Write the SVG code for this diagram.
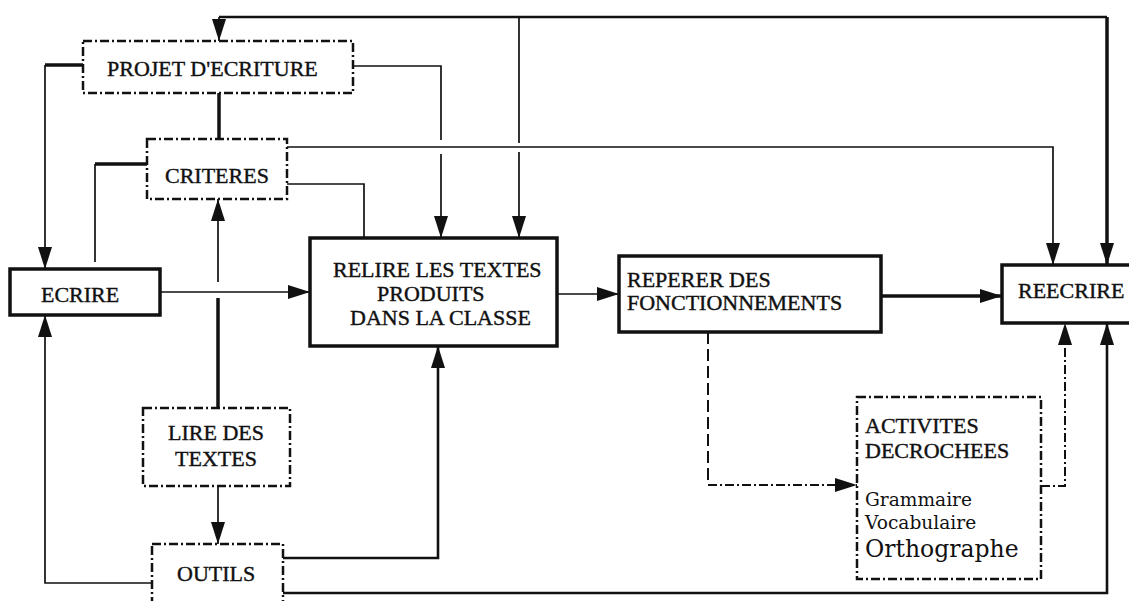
<svg xmlns="http://www.w3.org/2000/svg" width="1129" height="601" viewBox="0 0 1129 601">
<style>
.cap{font-family:"Liberation Serif","Times New Roman",serif;font-size:22px;fill:#111;stroke:#111;stroke-width:0.4}
.low{font-family:"DejaVu Serif",serif;font-size:18.6px;fill:#111}
.big{font-family:"DejaVu Serif",serif;font-size:23.5px;fill:#111}
.solid{fill:#fff;stroke:#111;stroke-width:3.5}
.dd{fill:#fff;stroke:#111;stroke-width:2.5;stroke-dasharray:9 3 2 3}
.thin{fill:none;stroke:#111;stroke-width:1.7}
.thick{fill:none;stroke:#111;stroke-width:3.5}
.med{fill:none;stroke:#111;stroke-width:2.6}
.dash{fill:none;stroke:#111;stroke-width:2;stroke-dasharray:12 5}
.ddl{fill:none;stroke:#111;stroke-width:2;stroke-dasharray:9 3 2 3}
</style>
<defs>
<marker id="ah" markerUnits="userSpaceOnUse" markerWidth="22" markerHeight="14" viewBox="0 0 22 14" refX="22" refY="7" orient="auto">
<path d="M0,0 L22,7 L0,14 z" fill="#111"/>
</marker>
</defs>
<rect width="1129" height="601" fill="#fff"/>
<g id="connectors">
<path class="med" d="M219,17 H1107"/>
<path class="thin" d="M219,17 V41" marker-end="url(#ah)"/>
<path class="thin" d="M519,17 V143 M519,152 V238" marker-end="url(#ah)"/>
<path class="thick" d="M1107,17 V265" marker-end="url(#ah)"/>
<path class="thick" d="M83,65 H45"/>
<path class="thin" d="M45,65 V269" marker-end="url(#ah)"/>
<path class="thin" d="M353,66 H441 V140 M441,154 V238" marker-end="url(#ah)"/>
<path class="thick" d="M219,93 V139"/>
<path class="thin" d="M287,147 H1053 V265" marker-end="url(#ah)"/>
<path class="thin" d="M287,184 H364 V238"/>
<path class="thick" d="M147,164 H95"/>
<path class="thin" d="M95,164 V262"/>
<path class="thin" d="M160,292 H310" marker-end="url(#ah)"/>
<path class="thick" d="M218,408 V298"/>
<path class="thin" d="M218,282 V199" marker-end="url(#ah)"/>
<path class="thin" d="M557,294 H619" marker-end="url(#ah)"/>
<path class="thick" d="M881,296 H1002" marker-end="url(#ah)"/>
<path class="dash" d="M708,332 V485"/>
<path class="ddl" d="M708,485 H857" marker-end="url(#ah)"/>
<path class="ddl" d="M1041,486 H1065 V323" marker-end="url(#ah)"/>
<path class="thin" d="M218,486 V544" marker-end="url(#ah)"/>
<path class="thin" d="M152,583 H45 V315" marker-end="url(#ah)"/>
<path class="med" d="M283,558 H438 V346" marker-end="url(#ah)"/>
<path class="med" d="M283,593 H1107 V323" marker-end="url(#ah)"/>
</g>
<g id="projet">
<rect class="dd" x="83" y="41" width="270" height="52"/>
<text class="cap" x="107" y="76">PROJET D'ECRITURE</text>
</g>
<g id="criteres">
<rect class="dd" x="147" y="139" width="140" height="60"/>
<text class="cap" x="165" y="183">CRITERES</text>
</g>
<g id="ecrire">
<rect class="solid" x="10" y="269" width="150" height="46"/>
<text class="cap" x="41" y="302">ECRIRE</text>
</g>
<g id="relire">
<rect class="solid" x="310" y="238" width="247" height="108"/>
<text class="cap" x="333" y="277">RELIRE LES TEXTES</text>
<text class="cap" x="377" y="301">PRODUITS</text>
<text class="cap" x="350" y="325">DANS LA CLASSE</text>
</g>
<g id="reperer">
<rect class="solid" x="619" y="256" width="262" height="76"/>
<text class="cap" x="627" y="287">REPERER DES</text>
<text class="cap" x="627" y="310">FONCTIONNEMENTS</text>
</g>
<g id="reecrire">
<rect class="solid" x="1002" y="265" width="140" height="58"/>
<text class="cap" x="1018" y="298">REECRIRE</text>
</g>
<g id="lire">
<rect class="dd" x="143" y="408" width="147" height="78"/>
<text class="cap" x="168" y="440">LIRE DES</text>
<text class="cap" x="175" y="466">TEXTES</text>
</g>
<g id="outils">
<rect class="dd" x="152" y="544" width="131" height="70"/>
<text class="cap" x="177" y="581">OUTILS</text>
</g>
<g id="activites">
<rect class="dd" x="857" y="397" width="184" height="182"/>
<text class="cap" x="865" y="433">ACTIVITES</text>
<text class="cap" x="865" y="458">DECROCHEES</text>
<text class="low" x="865" y="506">Grammaire</text>
<text class="low" x="865" y="529">Vocabulaire</text>
<text class="big" x="865" y="557">Orthographe</text>
</g>
</svg>
